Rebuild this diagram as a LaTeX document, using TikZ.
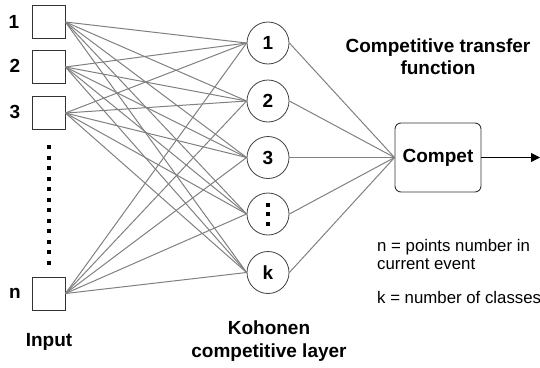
\documentclass[tikz,border=0pt]{standalone}
\usepackage{fontspec}
\setmainfont{Liberation Sans}
\usetikzlibrary{arrows.meta}
\begin{document}
\begin{tikzpicture}[x=1pt,y=-1pt,
  inbox/.style={draw=black!80, line width=0.9pt, minimum width=33pt, minimum height=33pt, inner sep=0pt},
  neuron/.style={circle, draw=black!75, line width=0.8pt, minimum size=42pt, inner sep=0pt, font=\fontsize{19}{22}\selectfont\bfseries},
  link/.style={draw=black!50, line width=1pt},
  lbl/.style={font=\fontsize{19}{22}\selectfont\bfseries, inner sep=0pt},
  note/.style={font=\fontsize{16.8}{18}\selectfont, align=left, inner sep=0pt, anchor=west},
  dotsq/.style={fill=black, inner sep=0pt, minimum width=3.5pt, minimum height=4pt}
]
\useasboundingbox (0,0) rectangle (540,367);
% input boxes
\node[inbox] (i1) at (48.5,22) {};
\node[inbox] (i2) at (48.5,67) {};
\node[inbox] (i3) at (48.5,113) {};
\node[inbox] (in) at (48.5,293.5) {};
\node[lbl] (l1) at (14,22) {1};
\node[lbl] (l2) at (15,66) {2};
\node[lbl] (l3) at (15,112) {3};
\node[lbl] (ln) at (15,293) {n};
\foreach \j in {0,...,11} \node[dotsq] (d\j) at (49,147.3+10.5*\j) {};
\node[lbl] (input) at (49,342) {Input};
% neurons
\node[neuron] (k1) at (268,43) {1};
\node[neuron] (k2) at (268,101) {2};
\node[neuron] (k3) at (268,157.5) {3};
\node[neuron] (k4) at (268,214) {};
\node[neuron] (k5) at (268,272.5) {k};
\foreach \j in {-1,0,1} \node[dotsq, minimum width=4pt] (c\j) at ([yshift=-9.5*\j pt]k4.center) {};
% links
\foreach \i in {i1,i2,i3,in}
  \foreach \k in {k1,k2,k3,k4,k5}
    \draw[link] (\i.east) -- (\k.west);
% compet
\node[draw=black!80, line width=0.9pt, rounded corners=6pt, minimum width=86pt, minimum height=69pt, font=\fontsize{19}{22}\selectfont\bfseries] (compet) at (438,157.5) {Compet};
\foreach \k in {k1,k2,k3,k4,k5}
  \draw[link] (\k.east) -- (compet.west);
\coordinate (out) at (540,157.5);
\draw[line width=1pt, -{Triangle[length=9pt,width=9pt]}] (compet.east) -- (out);
% texts
\node[lbl, align=center] (ctf) at (438,57) {Competitive transfer\\function};
\node[note] (nn) at (377,254) {n = points number in\\current event};
\node[note] (kk) at (377,297) {k = number of classes};
\node[lbl, align=center, font=\fontsize{19}{23}\selectfont\bfseries] (koh) at (269,341.5) {Kohonen\\competitive layer};
\end{tikzpicture}
\end{document}
